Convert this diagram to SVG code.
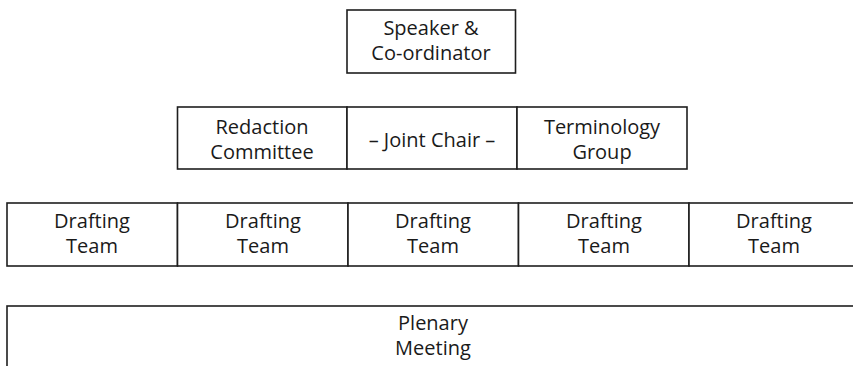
<svg xmlns="http://www.w3.org/2000/svg" width="853" height="366" viewBox="0 0 853 366">
<style>
rect{fill:#fff;stroke:#1e1e1e;stroke-width:1.6}
text{font-family:"Open Sans","Noto Sans","Liberation Sans",sans-serif;font-size:20px;fill:#1a1a1a;text-anchor:middle}
</style>
<rect x="0" y="0" width="853" height="366" style="stroke:none;fill:#fff"/>
<g id="speaker">
<rect x="347" y="10" width="168.5" height="63"/>
<text x="431" y="35">Speaker &amp;</text>
<text x="431" y="60">Co-ordinator</text>
</g>
<g id="redaction">
<rect x="177.5" y="107" width="169.5" height="62"/>
<text x="262" y="134">Redaction</text>
<text x="262" y="159">Committee</text>
</g>
<g id="joint-chair">
<rect x="347" y="107" width="170" height="62"/>
<text x="432" y="147">– Joint Chair –</text>
</g>
<g id="terminology">
<rect x="517" y="107" width="170" height="62"/>
<text x="602" y="134">Terminology</text>
<text x="602" y="159">Group</text>
</g>
<g id="drafting1">
<rect x="7" y="203" width="170.5" height="63"/>
<text x="92" y="228">Drafting</text>
<text x="92" y="253">Team</text>
</g>
<g id="drafting2">
<rect x="177.5" y="203" width="170.5" height="63"/>
<text x="263" y="228">Drafting</text>
<text x="263" y="253">Team</text>
</g>
<g id="drafting3">
<rect x="348" y="203" width="170.5" height="63"/>
<text x="433" y="228">Drafting</text>
<text x="433" y="253">Team</text>
</g>
<g id="drafting4">
<rect x="518.5" y="203" width="170.5" height="63"/>
<text x="604" y="228">Drafting</text>
<text x="604" y="253">Team</text>
</g>
<g id="drafting5">
<rect x="689" y="203" width="170.5" height="63"/>
<text x="774" y="228">Drafting</text>
<text x="774" y="253">Team</text>
</g>
<g id="plenary">
<rect x="7" y="306" width="852.5" height="63"/>
<text x="433" y="330">Plenary</text>
<text x="433" y="355">Meeting</text>
</g>
</svg>
